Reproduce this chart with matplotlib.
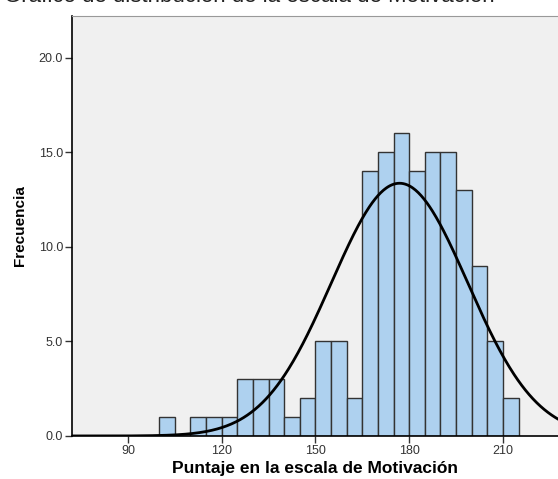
import numpy as np
import matplotlib.pyplot as plt

plt.rcParams['font.family'] = ['Liberation Sans', 'DejaVu Sans']

# histogram bins (width 5) and counts
bin_edges = [100, 105, 110, 115, 120, 125, 130, 135, 140, 145, 150, 155,
             160, 165, 170, 175, 180, 185, 190, 195, 200, 205, 210, 215]
counts = [1, 0, 1, 1, 1, 3, 3, 3, 1, 2, 5, 5, 2, 14, 15, 16, 14, 15, 15, 13, 9, 5, 2]

# normal curve parameters
curve_mean = 176.9
curve_sd = 21.8

x_ticks = [90, 120, 150, 180, 210]
y_ticks = [0, 5, 10, 15, 20]

fig = plt.figure(figsize=(5.58, 4.79), dpi=100)
ax = fig.add_axes([0.129, 0.0898, 0.871, 0.8768])
ax.set_facecolor('#F0F0F0')

edges = np.array(bin_edges)
widths = np.diff(edges)
ax.bar(edges[:-1], counts, width=widths, align='edge',
       color='#AED1EF', edgecolor='#333333', linewidth=1.0, zorder=2)

n = sum(counts)
bw = widths[0]
xs = np.linspace(60, 240, 600)
ys = n * bw / (curve_sd * np.sqrt(2 * np.pi)) * np.exp(-0.5 * ((xs - curve_mean) / curve_sd) ** 2)
ax.plot(xs, ys, color='black', linewidth=2.0, zorder=3)

ax.set_xlim(72.1, 227.6)
ax.set_ylim(0, 22.2)
ax.set_xticks(x_ticks)
ax.set_yticks(y_ticks)
ax.set_yticklabels([f'{v:.1f}' for v in y_ticks])
ax.tick_params(axis='both', direction='out', length=5, width=1.0,
               labelsize=9, labelcolor='#333333', color='#333333')
ax.tick_params(axis='x', pad=1.5)
ax.tick_params(axis='y', pad=1.5)

for side in ['left', 'bottom']:
    ax.spines[side].set_color('black')
    ax.spines[side].set_linewidth(1.2)
ax.spines['top'].set_color('#999999')
ax.spines['right'].set_visible(False)

ax.set_xlabel('Puntaje en la escala de Motivación', fontsize=12.5, fontweight='bold', labelpad=3)
ax.set_ylabel('Frecuencia', fontsize=11, fontweight='bold', labelpad=8)

# title is cropped at the top edge in the original image
fig.text(0.008, 1 - 2 / 479, 'Gráfico de distribución de la escala de Motivación',
         fontsize=16, color='#222222', ha='left', va='baseline')

fig.savefig('out.png', dpi=100)
